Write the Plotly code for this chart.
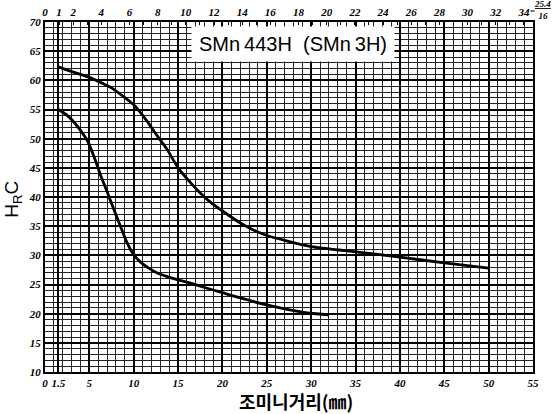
import plotly.graph_objects as go

# Jominy end-quench hardenability band for SMn443H (SMn3H)
# distance from quenched end (mm) and hardness (HRC)
upper_dist = [1.5, 3.0, 5.0, 7.5, 10.0, 11.5, 12.5, 13.7, 15.0, 16.5, 17.5, 18.5, 20.0, 22.5, 25.0, 30.0, 35.0, 40.0, 45.0, 50.0]
upper_hrc = [62.3, 61.5, 60.5, 58.7, 55.8, 53.0, 50.8, 48.3, 45.0, 42.3, 40.7, 39.3, 37.6, 35.1, 33.4, 31.5, 30.6, 29.7, 28.7, 27.8]

lower_dist = [1.5, 2.5, 3.4, 4.2, 4.8, 5.6, 6.2, 7.0, 7.7, 8.5, 9.2, 10.0, 10.8, 11.7, 12.6, 14.5, 16.5, 17.5, 20.0, 21.3, 25.0, 29.2, 32.0]
lower_hrc = [55.0, 54.0, 52.6, 51.0, 49.6, 46.6, 44.0, 40.9, 38.1, 35.0, 32.3, 30.1, 28.8, 27.8, 27.0, 26.0, 25.2, 24.7, 23.6, 23.0, 21.5, 20.2, 19.8]

# bottom axis: millimetres
mm_ticks = [0, 1.5, 5, 10, 15, 20, 25, 30, 35, 40, 45, 50, 55]
mm_labels = ["0", "1.5", "5", "10", "15", "20", "25", "30", "35", "40", "45", "50", "55"]
# top axis: sixteenths of an inch
sixteenth_ticks = [0, 1, 2, 4, 6, 8, 10, 12, 14, 16, 18, 20, 22, 24, 26, 28, 30, 32, 34]
hrc_ticks = [10, 15, 20, 25, 30, 35, 40, 45, 50, 55, 60, 65, 70]

MM_PER_SIXTEENTH = 25.4 / 16
X_MAX = 55

tick_font = dict(family="Liberation Serif", size=11, color="black", style="italic", weight="bold")
curve_line = dict(color="black", width=2.8, shape="spline", smoothing=0.5)

fig = go.Figure()
fig.add_trace(go.Scatter(x=upper_dist, y=upper_hrc, mode="lines", line=curve_line,
                         showlegend=False, hoverinfo="skip"))
fig.add_trace(go.Scatter(x=lower_dist, y=lower_hrc, mode="lines", line=curve_line,
                         showlegend=False, hoverinfo="skip"))
# invisible trace to carry the top axis
fig.add_trace(go.Scatter(x=[0, X_MAX / MM_PER_SIXTEENTH], y=[10, 10], xaxis="x2",
                         mode="markers", marker=dict(opacity=0), showlegend=False, hoverinfo="skip"))

fig.update_layout(
    width=557, height=414,
    margin=dict(l=45, r=24, t=22, b=42, autoexpand=False),
    paper_bgcolor="white", plot_bgcolor="white",
    xaxis=dict(
        range=[0, X_MAX], tickmode="array", tickvals=mm_ticks, ticktext=mm_labels,
        tickfont=tick_font, ticks="", showgrid=True, gridcolor="black", gridwidth=2,
        minor=dict(tickmode="linear", tick0=0, dtick=1, showgrid=True, gridcolor="#222222", gridwidth=1),
        showline=True, linecolor="black", linewidth=2, mirror=True, zeroline=False,
        automargin=False,
    ),
    xaxis2=dict(
        range=[0, X_MAX / MM_PER_SIXTEENTH], overlaying="x", side="top",
        tickmode="array", tickvals=sixteenth_ticks, ticktext=[str(v) for v in sixteenth_ticks],
        tickfont=tick_font, ticks="inside", ticklen=3, tickcolor="black", showgrid=False,
        ticklabelstandoff=3, automargin=False,
        minor=dict(tickmode="linear", tick0=0, dtick=1, ticks="inside", ticklen=3, tickcolor="black"),
        zeroline=False,
    ),
    yaxis=dict(
        range=[10, 70], tickmode="array", tickvals=hrc_ticks, ticktext=[str(v) for v in hrc_ticks],
        tickfont=tick_font, ticks="", showgrid=True, gridcolor="black", gridwidth=2,
        minor=dict(tickmode="linear", tick0=10, dtick=1, showgrid=True, gridcolor="#222222", gridwidth=1),
        showline=True, linecolor="black", linewidth=2, mirror=True, zeroline=False,
        automargin=False,
    ),
)

# steel grade box
fig.add_annotation(x=28.0, y=66.2, xref="x", yref="y",
                   text="SMn\u2009443H\u00a0\u00a0(SMn\u20093H)", showarrow=False,
                   font=dict(family="Liberation Sans", size=20, color="black"),
                   bgcolor="white", width=200, height=32, align="center")

# conversion note on the inch scale
fig.add_annotation(x=1.0, y=1.0, xref="paper", yref="paper", xanchor="center", yanchor="middle",
                   xshift=-1, yshift=11, text="=", showarrow=False,
                   font=dict(family="Liberation Serif", size=9, color="black", weight="bold"))
fig.add_annotation(x=1.0, y=1.0, xref="paper", yref="paper", xanchor="center", yanchor="middle",
                   xshift=9, yshift=12, text="<u><i><b>25.4</b></i></u><br><i><b>16</b></i>",
                   showarrow=False,
                   font=dict(family="Liberation Serif", size=9, color="black"))

# axis titles
fig.add_annotation(x=0.514, y=-0.083, xref="paper", yref="paper", xanchor="center", yanchor="middle",
                   text="조미니거리(㎜)", showarrow=False,
                   font=dict(family="Noto Sans CJK KR", size=18, color="black", weight="bold"))
fig.add_annotation(x=-0.065, y=0.493, xref="paper", yref="paper", xanchor="center", yanchor="middle",
                   textangle=-90, text="H<sub>R</sub>C", showarrow=False,
                   font=dict(family="Liberation Sans", size=19, color="black"))

fig.write_html("out.html")
